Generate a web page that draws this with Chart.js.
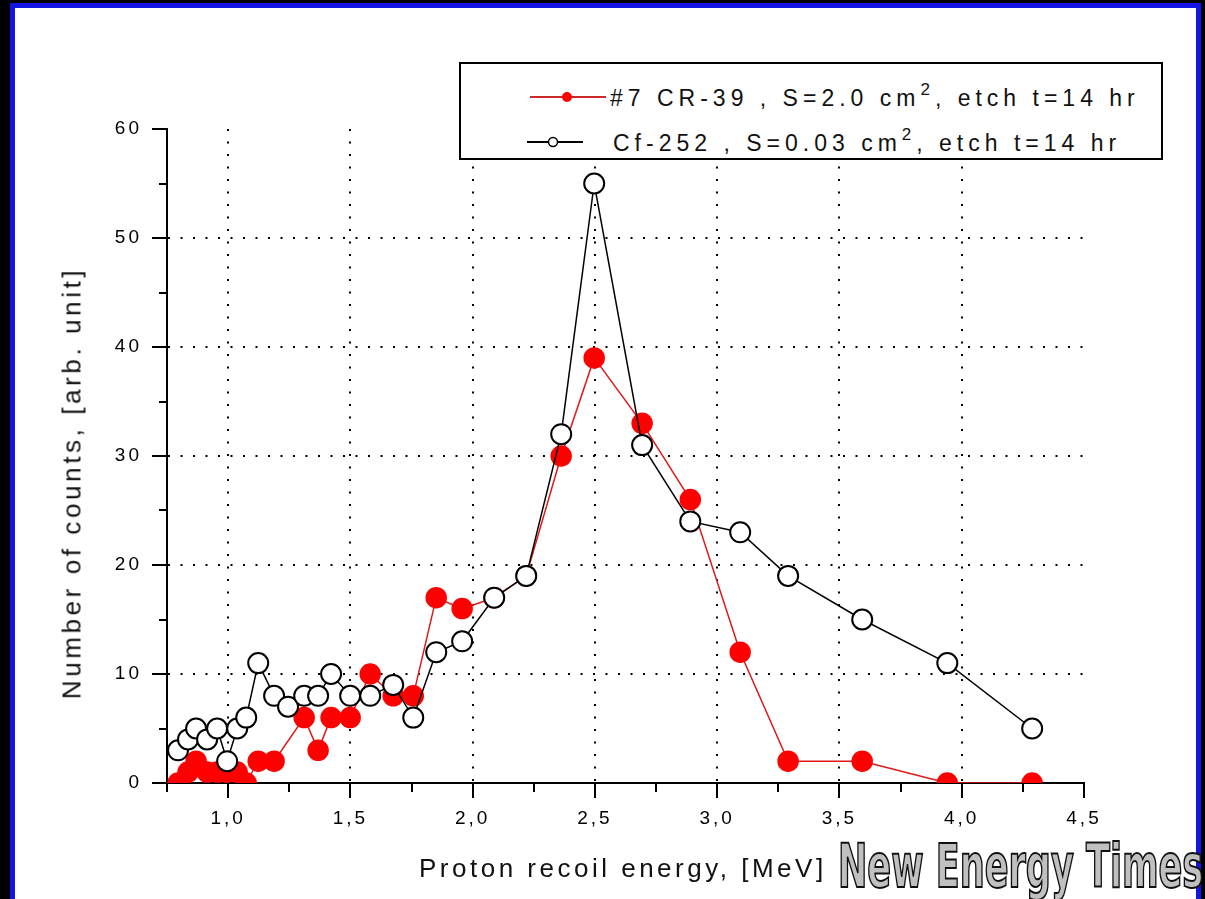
<!DOCTYPE html>
<html>
<head>
<meta charset="utf-8">
<script src="https://cdn.jsdelivr.net/npm/chart.js@4.4.0/dist/chart.umd.min.js"></script>
<style>
    html, body { margin: 0; padding: 0; background: #000; width: 1205px; height: 899px; overflow: hidden; font-family: "Liberation Sans", Arial, sans-serif; }
    #frame { position: absolute; left: 10px; top: 3px; width: 1191px; height: 910px; box-sizing: border-box; border: 5px solid #1414e6; background: #fff; }
    #plot { position: absolute; left: 0; top: 0; }
    .ytitle { position: absolute; left: 72px; top: 483px; transform: translate(-50%, -50%) rotate(-90deg); white-space: nowrap; font-size: 26px; letter-spacing: 3.6px; color: #111; }
    .xtitle { position: absolute; left: 419px; top: 855px; white-space: nowrap; font-size: 26px; letter-spacing: 3.5px; color: #111; line-height: 1; }
    #legend { position: absolute; left: 459px; top: 62px; width: 704px; height: 98px; box-sizing: border-box; border: 2px solid #000; background: #fff; }
    #legend .mk { position: absolute; }
    #legend .tx { position: absolute; font-size: 23px; letter-spacing: 5px; white-space: nowrap; line-height: 1; color: #111; }
    #legend .sup { position: relative; top: -11px; font-size: 17px; }
    .mark { position: absolute; left: 838px; top: 836px; white-space: nowrap; font-family: "DejaVu Sans Condensed", "DejaVu Sans", sans-serif; font-weight: bold; font-size: 60px; line-height: 1; color: #c0c0c0; -webkit-text-stroke: 2px #111; transform-origin: left top; transform: scaleX(0.65); }
</style>
</head>
<body>
<div id="frame"></div>
<canvas id="plot" width="1205" height="899" style="width:1205px;height:899px"></canvas>
<div class="ytitle">Number of counts, [arb. unit]</div>
<div class="xtitle">Proton recoil energy, [MeV]</div>
<div id="legend">
    <svg class="mk" style="left:69px;top:23px" width="78" height="20">
        <line x1="0" y1="10" x2="76" y2="10" stroke="#cc2a2a" stroke-width="2"/>
        <circle cx="37" cy="10" r="5" fill="#ff0000"/>
    </svg>
    <div class="tx" style="left:149px;top:23px">#7 CR-39 , S=2.0 cm<span class="sup">2</span>, etch t=14 hr</div>
    <svg class="mk" style="left:66px;top:68px" width="58" height="20">
        <line x1="0" y1="10" x2="56" y2="10" stroke="#000" stroke-width="2"/>
        <circle cx="26" cy="10" r="4.5" fill="#fff" stroke="#000" stroke-width="1.5"/>
    </svg>
    <div class="tx" style="left:152px;top:68px">Cf-252 , S=0.03 cm<span class="sup">2</span>, etch t=14 hr</div>
</div>
<div class="mark">New Energy Times</div>
<script>
const energyMeV = [0.795, 0.836, 0.869, 0.914, 0.955, 0.996, 1.037, 1.074, 1.123, 1.188, 1.245, 1.311, 1.368, 1.421, 1.499, 1.581,
    1.675, 1.757, 1.851, 1.957, 2.088, 2.219, 2.362, 2.497, 2.693, 2.890, 3.094, 3.290, 3.593, 3.941, 4.288];
const cr39Counts = [0, 1, 2, 1, 1, 1, 1, 0, 2, 2, null, 6, 3, 6, 6, 10,
    8, 8, 17, 16, 17, 19, 30, 39, 33, 26, 12, 2, 2, 0, 0];
const cf252Counts = [3, 4, 5, 4, 5, 2, 5, 6, 11, 8, 7, 8, 8, 10, 8, 8,
    9, 6, 12, 13, 17, 19, 32, 55, 31, 24, 23, 19, 15, 11, 5];

const xMajorTicks = [1.0, 1.5, 2.0, 2.5, 3.0, 3.5, 4.0, 4.5];
const xTickLabels = ["1,0", "1,5", "2,0", "2,5", "3,0", "3,5", "4,0", "4,5"];
const xMinorTicks = [0.75, 1.25, 1.75, 2.25, 2.75, 3.25, 3.75, 4.25];
const yMajorTicks = [0, 10, 20, 30, 40, 50, 60];
const yTickLabels = ["0", "10", "20", "30", "40", "50", "60"];
const yMinorTicks = [5, 15, 25, 35, 45, 55];

const toPoints = (counts) => energyMeV
    .map((e, i) => ({ x: e, y: counts[i] }))
    .filter(p => p.y !== null);

const allX = [...xMajorTicks, ...xMinorTicks].sort((a, b) => a - b);
const allY = [...yMajorTicks, ...yMinorTicks].sort((a, b) => a - b);
const tickVal = c => (c && c.tick ? c.tick.value : undefined);

// the original uses a wide-spaced bitmap font, so space the canvas text out
const spacedText = {
    id: "spacedText",
    beforeLayout(chart) { chart.ctx.letterSpacing = "3px"; },
    beforeDraw(chart) { chart.ctx.letterSpacing = "3px"; }
};

const tickFont = { family: "Liberation Sans", size: 19 };

new Chart(document.getElementById("plot"), {
    type: "scatter",
    data: {
        datasets: [
            {
                label: "#7 CR-39 , S=2.0 cm², etch t=14 hr",
                data: toPoints(cr39Counts),
                showLine: true,
                borderColor: "#e01818",
                borderWidth: 1.5,
                pointRadius: 10,
                pointBackgroundColor: "#ff0000",
                pointBorderColor: "#ff0000",
                pointBorderWidth: 1.5,
                clip: 0,
                order: 2
            },
            {
                label: "Cf-252 , S=0.03 cm², etch t=14 hr",
                data: toPoints(cf252Counts),
                showLine: true,
                borderColor: "#000",
                borderWidth: 1.5,
                pointRadius: 10,
                pointBackgroundColor: "#fff",
                pointBorderColor: "#000",
                pointBorderWidth: 2,
                clip: 0,
                order: 1
            }
        ]
    },
    options: {
        responsive: false,
        devicePixelRatio: 1,
        animation: false,
        layout: { padding: { left: 107, right: 121, top: 129, bottom: 66 } },
        plugins: { legend: { display: false }, tooltip: { enabled: false } },
        scales: {
            x: {
                type: "linear",
                min: 0.75,
                max: 4.5,
                afterBuildTicks: s => { s.ticks = allX.map(v => ({ value: v })); },
                afterFit: s => { s.height = 50; },
                ticks: {
                    autoSkip: false,
                    maxRotation: 0,
                    padding: 9,
                    color: "#000",
                    font: tickFont,
                    callback: v => {
                        const i = xMajorTicks.indexOf(v);
                        return i < 0 ? "" : xTickLabels[i];
                    }
                },
                grid: {
                    color: c => (xMajorTicks.includes(tickVal(c)) && tickVal(c) < 4.5 ? "#000" : "rgba(0,0,0,0)"),
                    lineWidth: 2,
                    tickColor: "#000",
                    tickWidth: 2,
                    tickLength: 15,
                    tickBorderDash: c => (xMajorTicks.includes(tickVal(c)) ? [] : [8, 100])
                },
                border: { color: "#000", width: 2, dash: [2, 10.5] }
            },
            y: {
                min: 0,
                max: 60,
                afterBuildTicks: s => { s.ticks = allY.map(v => ({ value: v })); },
                afterFit: s => { s.width = 60; },
                ticks: {
                    autoSkip: false,
                    padding: 10,
                    color: "#000",
                    font: tickFont,
                    callback: v => {
                        const i = yMajorTicks.indexOf(v);
                        return i < 0 ? "" : yTickLabels[i];
                    }
                },
                grid: {
                    color: c => (yMajorTicks.includes(tickVal(c)) && tickVal(c) > 0 && tickVal(c) < 60 ? "#000" : "rgba(0,0,0,0)"),
                    lineWidth: 2,
                    tickColor: "#000",
                    tickWidth: 2,
                    tickLength: 15,
                    tickBorderDash: c => (yMajorTicks.includes(tickVal(c)) ? [] : [0, 7, 8, 100])
                },
                border: { color: "#000", width: 2, dash: [2, 10.5] }
            }
        }
    },
    plugins: [spacedText]
});
</script>
</body>
</html>
